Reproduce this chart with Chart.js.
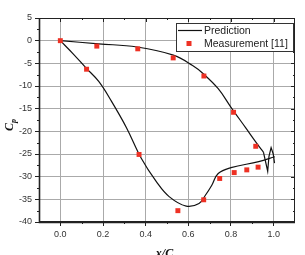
<!DOCTYPE html>
<html>
<head>
<meta charset="utf-8">
<script src="https://cdn.jsdelivr.net/npm/chart.js@4"></script>
<style>html,body{margin:0;padding:0;background:#fff}</style>
</head>
<body>
<canvas id="myChart" width="305" height="255"></canvas>
<script>
// tick labels
const xTicks = [0, 0.2, 0.4, 0.6, 0.8, 1.0];
const yTicks = [5, 0, -5, -10, -15, -20, -25, -30, -35, -40];

// Measurement [11]
const measX = [0.0, 0.123, 0.171, 0.363, 0.369, 0.529, 0.551, 0.672, 0.673, 0.747, 0.812, 0.815, 0.874, 0.916, 0.927];
const measY = [0.0, -6.3, -1.2, -1.8, -25.1, -3.8, -37.5, -35.1, -7.8, -30.4, -15.8, -29.1, -28.5, -23.3, -27.9];

// Prediction, upper branch
const upperX = [0, 0.18, 0.36, 0.53, 0.62, 0.67, 0.74, 0.80, 0.87, 0.92, 0.952];
const upperY = [0, -0.7, -1.4, -3.2, -5.5, -7.3, -10.6, -14.7, -19.3, -22.6, -24.6];
// Prediction, lower branch
const lowerX = [0, 0.06, 0.12, 0.18, 0.24, 0.31, 0.38, 0.45, 0.51, 0.59, 0.65, 0.68, 0.71, 0.74, 0.80, 0.93, 1.005];
const lowerY = [0, -2.9, -6.0, -9.0, -13.4, -19.2, -26.0, -31.1, -34.4, -36.5, -35.9, -34.1, -31.9, -29.3, -28.0, -26.7, -25.6];
// Prediction, trailing edge wiggle
const edgeX = [0.952, 0.972, 0.978, 0.988, 0.998, 1.004];
const edgeY = [-24.6, -28.8, -25.5, -23.6, -25.0, -27.0];

const pts = (xs, ys) => xs.map((x, i) => ({x: x, y: ys[i]}));
const RED = '#ee3124';

const framePlugin = {
  id: 'frame',
  afterDraw(chart) {
    const ctx = chart.ctx;
    const a = chart.chartArea;
    const sx = chart.scales.x, sy = chart.scales.y;
    ctx.save();
    ctx.strokeStyle = '#222';
    ctx.lineWidth = 1;
    ctx.strokeRect(a.left + 0.5, a.top + 0.5, a.right - a.left - 1, a.bottom - a.top - 1);
    // heavier left and bottom axis lines
    ctx.lineWidth = 1.6;
    ctx.beginPath();
    ctx.moveTo(a.left + 0.5, a.top); ctx.lineTo(a.left + 0.5, a.bottom + 0.5);
    ctx.lineTo(a.right, a.bottom + 0.5);
    ctx.stroke();
    // ticks
    ctx.lineWidth = 1;
    ctx.beginPath();
    xTicks.forEach(v => {
      const p = Math.round(sx.getPixelForValue(v)) + 0.5;
      ctx.moveTo(p, a.top); ctx.lineTo(p, a.top + 4);
    });
    [0.1, 0.3, 0.5, 0.7, 0.9].forEach(v => {
      const p = Math.round(sx.getPixelForValue(v)) + 0.5;
      ctx.moveTo(p, a.bottom); ctx.lineTo(p, a.bottom + 2);
      ctx.moveTo(p, a.top); ctx.lineTo(p, a.top + 2);
    });
    yTicks.forEach(v => {
      const p = Math.round(sy.getPixelForValue(v)) + 0.5;
      ctx.moveTo(a.right, p); ctx.lineTo(a.right - 4, p);
      if (v > -40) {
        const q = Math.round(sy.getPixelForValue(v - 2.5)) + 0.5;
        ctx.moveTo(a.left, q); ctx.lineTo(a.left - 2, q);
        ctx.moveTo(a.right, q); ctx.lineTo(a.right - 2, q);
      }
    });
    ctx.stroke();

    // legend
    ctx.fillStyle = '#fff';
    ctx.fillRect(176, 23, 117, 28);
    ctx.strokeStyle = '#333';
    ctx.strokeRect(176.5, 23.5, 117, 28);
    ctx.beginPath();
    ctx.strokeStyle = '#111';
    ctx.lineWidth = 1.2;
    ctx.moveTo(178, 30.5); ctx.lineTo(202, 30.5);
    ctx.stroke();
    ctx.fillStyle = RED;
    ctx.fillRect(186.5, 41, 5, 5);
    ctx.fillStyle = '#222';
    ctx.font = '10.5px "Liberation Sans", Arial, sans-serif';
    ctx.textBaseline = 'middle';
    ctx.textAlign = 'left';
    ctx.fillText('Prediction', 204, 31);
    ctx.fillText('Measurement [11]', 204, 44);

    // axis titles
    ctx.fillStyle = '#111';
    ctx.textBaseline = 'alphabetic';
    ctx.font = 'bold italic 12px "Liberation Serif", serif';
    const xt = 'x/C';
    const w1 = ctx.measureText(xt).width;
    const cx = (a.left + a.right) / 2;
    ctx.fillText(xt, cx - (w1 + 5) / 2, 257);
    ctx.font = 'bold italic 8px "Liberation Serif", serif';
    ctx.fillText('x', cx - (w1 + 5) / 2 + w1, 260);

    ctx.translate(12.5, 125);
    ctx.rotate(-Math.PI / 2);
    ctx.font = 'bold italic 12px "Liberation Serif", serif';
    const wc = ctx.measureText('C').width;
    ctx.fillText('C', -(wc + 4) / 2, 0);
    ctx.font = 'bold italic 8px "Liberation Serif", serif';
    ctx.fillText('p', -(wc + 4) / 2 + wc, 3);
    ctx.restore();
  }
};

const lineStyle = {
  showLine: true,
  pointRadius: 0,
  borderColor: '#111',
  borderWidth: 1.2,
  fill: false
};

new Chart(document.getElementById('myChart'), {
  type: 'scatter',
  data: {
    datasets: [
      {
        label: 'Measurement [11]',
        data: pts(measX, measY),
        pointStyle: 'rect',
        pointRadius: 3.5,
        backgroundColor: RED,
        borderWidth: 0
      },
      Object.assign({label: 'Prediction', data: pts(upperX, upperY), tension: 0.4}, lineStyle),
      Object.assign({label: 'Prediction', data: pts(lowerX, lowerY), tension: 0.4}, lineStyle),
      Object.assign({label: 'Prediction', data: pts(edgeX, edgeY), tension: 0}, lineStyle)
    ]
  },
  options: {
    responsive: false,
    animation: false,
    layout: {padding: {left: 0, right: 10, top: 18, bottom: 0}},
    plugins: {legend: {display: false}, tooltip: {enabled: false}},
    scales: {
      x: {
        type: 'linear',
        min: -0.1,
        max: 1.1,
        afterBuildTicks: s => { s.ticks = xTicks.map(v => ({value: v})); },
        afterFit: s => { s.height = 33; },
        grid: {color: '#aaa', borderDash: [1, 2], tickColor: '#222', tickBorderDash: [], tickLength: 4},
        border: {display: false},
        ticks: {
          padding: 3,
          color: '#333',
          font: {size: 9, family: '"Liberation Sans", Arial, sans-serif'},
          callback: v => v.toFixed(1)
        }
      },
      y: {
        type: 'linear',
        min: -40,
        max: 5,
        afterBuildTicks: s => { s.ticks = yTicks.map(v => ({value: v})); },
        afterFit: s => { s.width = 39; },
        grid: {color: '#aaa', borderDash: [1, 2], tickColor: '#222', tickBorderDash: [], tickLength: 4},
        border: {display: false},
        ticks: {
          padding: 3,
          color: '#333',
          font: {size: 9, family: '"Liberation Sans", Arial, sans-serif'},
          callback: v => String(v)
        }
      }
    }
  },
  plugins: [framePlugin]
});
</script>
</body>
</html>
